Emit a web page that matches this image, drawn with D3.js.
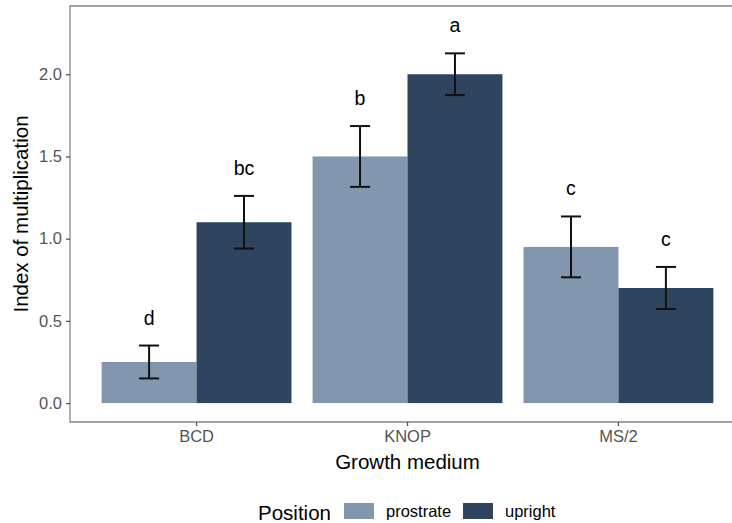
<!DOCTYPE html>
<html>
<head>
<meta charset="utf-8">
<script src="https://cdn.jsdelivr.net/npm/d3@7"></script>
<style>
  body { margin: 0; background: #fff; overflow: hidden; }
  svg { display: block; font-family: "Liberation Sans", Arial, sans-serif; }
</style>
</head>
<body>
<div id="chart"></div>
<script>
// data
let media = ["BCD", "KNOP", "MS/2"];
let positions = ["prostrate", "upright"];
let prostrateMean = [0.25, 1.50, 0.95];
let prostrateSe   = [0.10, 0.185, 0.185];
let uprightMean   = [1.10, 2.00, 0.70];
let uprightSe     = [0.16, 0.127, 0.128];
let prostrateLetters = ["d", "b", "c"];
let uprightLetters   = ["bc", "a", "c"];
let yTicks = [0, 0.5, 1.0, 1.5, 2.0];

let colors = {prostrate: "#8296ae", upright: "#2f445f"};

let rows = [];
media.forEach((m, i) => {
    rows.push({medium: m, position: "prostrate", mean: prostrateMean[i], se: prostrateSe[i], letter: prostrateLetters[i]});
    rows.push({medium: m, position: "upright", mean: uprightMean[i], se: uprightSe[i], letter: uprightLetters[i]});
});

let W = 732, H = 523;
// the panel runs past the right edge of the picture (cropped figure)
let panel = {left: 70, right: 745, top: 6, bottom: 422};

let svg = d3.select("#chart")
    .append("svg")
        .attr("width", W)
        .attr("height", H);

let x = d3.scaleBand()
    .domain(media)
    .range([panel.left, panel.right])
    .paddingInner(0.1)
    .paddingOuter(0.15);

let xSub = d3.scaleBand()
    .domain(positions)
    .range([0, x.bandwidth()]);

let y = d3.scaleLinear()
    .domain([-0.115, 2.415])
    .range([panel.bottom, panel.top]);

// bars
svg.append("g")
    .selectAll("rect")
    .data(rows)
    .enter()
    .append("rect")
        .attr("x", d => x(d.medium) + xSub(d.position))
        .attr("y", d => y(d.mean))
        .attr("width", xSub.bandwidth())
        .attr("height", d => y(0) - y(d.mean))
        .attr("fill", d => colors[d.position]);

// error bars
let capHalf = 10;
let eb = svg.append("g")
    .selectAll("g")
    .data(rows)
    .enter()
    .append("g")
        .attr("stroke", "#111")
        .attr("stroke-width", 2);

let cx = d => x(d.medium) + xSub(d.position) + xSub.bandwidth() / 2;
eb.append("line")
    .attr("x1", cx).attr("x2", cx)
    .attr("y1", d => y(d.mean + d.se))
    .attr("y2", d => y(d.mean - d.se));
eb.append("line")
    .attr("x1", d => cx(d) - capHalf).attr("x2", d => cx(d) + capHalf)
    .attr("y1", d => y(d.mean + d.se)).attr("y2", d => y(d.mean + d.se));
eb.append("line")
    .attr("x1", d => cx(d) - capHalf).attr("x2", d => cx(d) + capHalf)
    .attr("y1", d => y(d.mean - d.se)).attr("y2", d => y(d.mean - d.se));

// significance letters
svg.append("g")
    .selectAll("text")
    .data(rows)
    .enter()
    .append("text")
        .attr("x", cx)
        .attr("y", d => y(d.mean + d.se) - 21)
        .attr("text-anchor", "middle")
        .attr("font-size", 19.5)
        .attr("fill", "#000")
        .text(d => d.letter);

// panel border: top, left, bottom (right side is cropped away)
svg.append("path")
    .attr("d", `M${W},${panel.top}H${panel.left}V${panel.bottom}H${W}`)
    .attr("fill", "none")
    .attr("stroke", "#858585")
    .attr("stroke-width", 1.3);

// axes
let xAxis = svg.append("g")
    .attr("transform", `translate(0,${panel.bottom})`)
    .call(d3.axisBottom(x).tickSize(4).tickPadding(4));
let yAxis = svg.append("g")
    .attr("transform", `translate(${panel.left},0)`)
    .call(d3.axisLeft(y).tickValues(yTicks).tickFormat(d3.format(".1f")).tickSize(4).tickPadding(4));

[xAxis, yAxis].forEach(a => {
    a.select(".domain").remove();
    a.selectAll(".tick line").attr("stroke", "#555").attr("stroke-width", 1.3);
    a.selectAll(".tick text")
        .attr("fill", "#555")
        .attr("font-size", 16.5)
        .attr("font-family", "Liberation Sans, Arial, sans-serif");
});

// axis titles
svg.append("text")
    .attr("x", (panel.left + panel.right) / 2)
    .attr("y", 469)
    .attr("text-anchor", "middle")
    .attr("font-size", 20.5)
    .text("Growth medium");

svg.append("text")
    .attr("transform", `translate(28,${(panel.top + panel.bottom) / 2}) rotate(-90)`)
    .attr("text-anchor", "middle")
    .attr("font-size", 20.5)
    .text("Index of multiplication");

// legend
let legend = svg.append("g").attr("transform", "translate(258,0)");
legend.append("text")
    .attr("x", 0)
    .attr("y", 520)
    .attr("font-size", 20.5)
    .text("Position");

let keyX = [86, 205];
positions.forEach((p, i) => {
    legend.append("rect")
        .attr("x", keyX[i])
        .attr("y", 503)
        .attr("width", 30)
        .attr("height", 16)
        .attr("fill", colors[p]);
    legend.append("text")
        .attr("x", keyX[i] + 42)
        .attr("y", 517)
        .attr("font-size", 16.5)
        .text(p);
});
</script>
</body>
</html>
